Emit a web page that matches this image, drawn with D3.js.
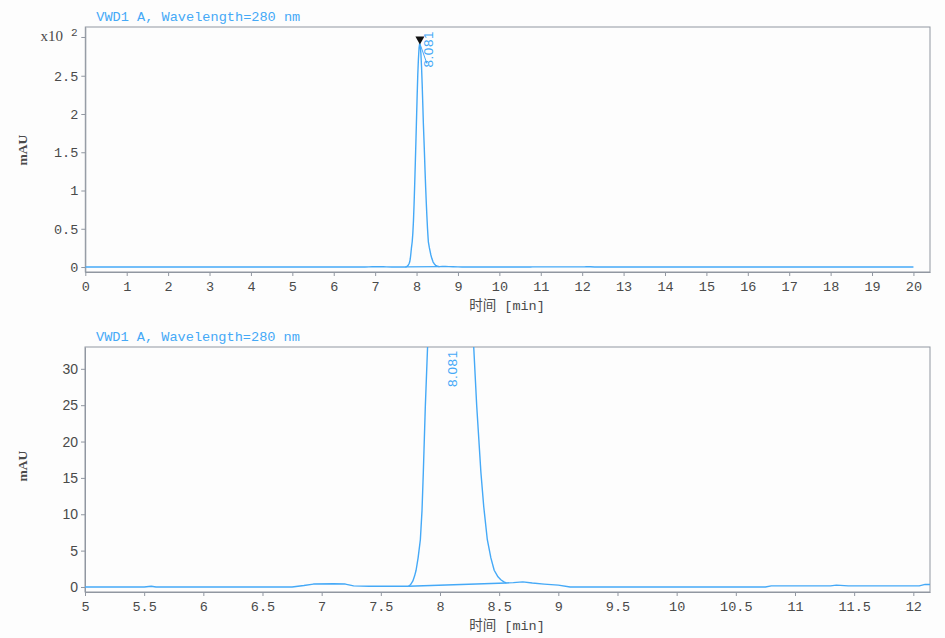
<!DOCTYPE html>
<html>
<head>
<meta charset="utf-8">
<script src="https://cdn.jsdelivr.net/npm/d3@7/dist/d3.min.js"></script>
<style>
  html, body { margin: 0; padding: 0; background: #fdfdfd; }
  svg { display: block; }
</style>
</head>
<body>
<svg id="chart" width="945" height="638"></svg>
<script>
// ---------------- DATA ----------------
const chartTitle = "VWD1 A, Wavelength=280 nm";
const xAxisTitleCJK = "时间";
const xAxisTitleUnit = " [min]";
const yAxisTitle = "mAU";
const peakLabel = "8.081";
const peakTime = 8.081;
const peakHeight = 292;

// retention time (min)
const times = [
  0, 5.5, 5.56, 5.6, 6.75, 6.85, 6.93, 7.1, 7.2, 7.27, 7.4, 7.6,
  7.733, 7.75, 7.77, 7.785, 7.798, 7.815, 7.834, 7.848, 7.859, 7.876, 7.895,
  7.91, 7.925, 7.94, 7.955, 7.97, 7.985, 8.0, 8.015, 8.03, 8.045, 8.06, 8.075,
  8.09, 8.105, 8.12, 8.135, 8.15, 8.165, 8.18, 8.19, 8.205, 8.22, 8.235, 8.25,
  8.265, 8.275, 8.285, 8.31, 8.346, 8.37, 8.40, 8.43, 8.458, 8.49, 8.514, 8.54,
  8.56, 8.62, 8.70, 8.78, 8.88, 9.0, 9.1, 10.75, 10.8, 11.3, 11.35, 11.45,
  12.05, 12.1, 12.2, 12.3, 20.0
];
// absorbance (mAU)
const signal = [
  0, 0, 0.1, 0, 0, 0.2, 0.4, 0.45, 0.4, 0.15, 0.1, 0.1,
  0.1, 0.3, 0.8, 1.5, 2.3, 4.0, 6.5, 10.5, 15.7, 24.8, 33,
  44, 60, 82, 108, 136, 165, 195, 225, 252, 272, 286, 292,
  289, 279, 262, 240, 214, 187, 165, 150, 126, 104, 84, 66,
  50, 41, 33, 25, 15.7, 11, 6.5, 4.0, 2.3, 1.4, 1.0, 0.7,
  0.55, 0.6, 0.7, 0.55, 0.4, 0.25, 0, 0, 0.15, 0.15, 0.25, 0.15,
  0.15, 0.35, 0.35, 0.1, 0
];
// integration baseline under the peak
const baselineTimes = [7.733, 8.56];
const baselineValues = [0.1, 0.55];

// axis ticks
const topXTicks = [0,1,2,3,4,5,6,7,8,9,10,11,12,13,14,15,16,17,18,19,20];
const topYTicks = [0, 50, 100, 150, 200, 250];
const topYTickLabels = ["0", "0.5", "1", "1.5", "2", "2.5"];
const topYExpTick = 300;
const botXTicks = [5, 5.5, 6, 6.5, 7, 7.5, 8, 8.5, 9, 9.5, 10, 10.5, 11, 11.5, 12];
const botYTicks = [0, 5, 10, 15, 20, 25, 30];

// ---------------- DRAW ----------------
const series = times.map((t, i) => ({ t, v: signal[i] }));
const base = baselineTimes.map((t, i) => ({ t, v: baselineValues[i] }));

const svg = d3.select("#chart");
const blue = "#45a9f7";
const frameCol = "#9197a1";
const tickTextCol = "#4a4a4a";
const monoFont = "'Liberation Mono', 'DejaVu Sans Mono', monospace";
const sansFont = "'Liberation Sans', Arial, sans-serif";

function panel(cfg) {
  const g = svg.append("g");
  const x = d3.scaleLinear().domain(cfg.xDomain).range([cfg.left, cfg.right]);
  const y = d3.scaleLinear().domain(cfg.yDomain).range([cfg.bottom, cfg.top]);

  const clipId = "clip" + cfg.id;
  svg.append("defs").append("clipPath").attr("id", clipId)
    .append("rect").attr("x", cfg.left).attr("y", cfg.top)
    .attr("width", cfg.right - cfg.left).attr("height", cfg.bottom - cfg.top);

  // frame
  g.append("rect").attr("x", cfg.left).attr("y", cfg.top)
    .attr("width", cfg.right - cfg.left).attr("height", cfg.bottom - cfg.top)
    .attr("fill", "none").attr("stroke", frameCol).attr("stroke-width", 1);

  // x axis
  const xAxis = d3.axisBottom(x).tickValues(cfg.xTicks).tickSize(4).tickSizeOuter(0)
    .tickFormat(d => String(d));
  const gx = g.append("g").attr("transform", `translate(0,${cfg.bottom})`).call(xAxis);
  gx.select(".domain").attr("stroke", frameCol);
  gx.selectAll(".tick line").attr("stroke", frameCol);
  gx.selectAll(".tick text").attr("fill", tickTextCol).attr("font-family", monoFont)
    .attr("font-size", "13.5px").attr("dy", "0.9em");

  // y axis
  const yAxis = d3.axisLeft(y).tickValues(cfg.yTicks).tickSize(4).tickSizeOuter(0)
    .tickFormat((d, i) => cfg.yLabels ? cfg.yLabels[i] : String(d));
  const gy = g.append("g").attr("transform", `translate(${cfg.left},0)`).call(yAxis);
  gy.select(".domain").attr("stroke", frameCol);
  gy.selectAll(".tick line").attr("stroke", frameCol);
  gy.selectAll(".tick text").attr("fill", tickTextCol).attr("font-family", cfg.yFont)
    .attr("font-size", cfg.yFontSize).attr("x", -7);

  // title
  g.append("text").attr("x", cfg.left + 11).attr("y", cfg.top - 6)
    .attr("fill", blue).attr("font-family", monoFont).attr("font-size", "13.6px")
    .text(chartTitle);

  // axis titles
  const xt = g.append("text").attr("x", 507).attr("y", cfg.bottom + 38)
    .attr("text-anchor", "middle").attr("fill", tickTextCol).attr("font-size", "13.5px");
  xt.append("tspan").attr("font-family", "'Noto Sans CJK SC', sans-serif").text(xAxisTitleCJK);
  xt.append("tspan").attr("font-family", monoFont).text(xAxisTitleUnit);
  g.append("text")
    .attr("transform", `translate(27,${cfg.yTitleY}) rotate(-90)`)
    .attr("text-anchor", "middle").attr("fill", tickTextCol)
    .attr("font-family", "'Liberation Serif', serif").attr("font-size", "13.5px")
    .attr("font-weight", "bold")
    .text(yAxisTitle);

  // data
  const line = d3.line().x(d => x(d.t)).y(d => y(d.v));
  const plot = g.append("g").attr("clip-path", `url(#${clipId})`);
  plot.append("path").datum(base).attr("d", line)
    .attr("fill", "none").attr("stroke", blue).attr("stroke-width", 1.3);
  plot.append("path").datum(series).attr("d", line)
    .attr("fill", "none").attr("stroke", blue).attr("stroke-width", 1.4)
    .attr("stroke-linejoin", "round");

  return { g, x, y };
}

// top panel
const topP = panel({
  id: "top", left: 85.3, right: 930, top: 27, bottom: 272,
  xDomain: [0, 20.4], yDomain: [-6.5, 313.7],
  xTicks: topXTicks, yTicks: topYTicks, yLabels: topYTickLabels,
  yFont: monoFont, yFontSize: "13.5px", yTitleY: 150
});
// exponent tick
topP.g.append("line").attr("x1", 81.3).attr("x2", 85.3)
  .attr("y1", topP.y(topYExpTick)).attr("y2", topP.y(topYExpTick)).attr("stroke", frameCol);
topP.g.append("text").attr("x", 63).attr("y", topP.y(topYExpTick) + 4)
  .attr("text-anchor", "end").attr("fill", tickTextCol)
  .attr("font-family", "'Liberation Serif', serif").attr("font-size", "15px").text("x10");
topP.g.append("text").attr("x", 71).attr("y", topP.y(topYExpTick) - 1)
  .attr("fill", tickTextCol).attr("font-family", monoFont).attr("font-size", "11px").text("2");

// peak marker and label (top)
const px = topP.x(peakTime), py = topP.y(peakHeight);
topP.g.append("line").attr("x1", px).attr("y1", py).attr("x2", px + 7).attr("y2", py + 20)
  .attr("stroke", blue).attr("stroke-width", 1);
topP.g.append("path")
  .attr("d", `M${px - 4.5},${py - 7} L${px + 4.5},${py - 7} L${px},${py + 1} Z`)
  .attr("fill", "#111");
topP.g.append("text").attr("transform", `translate(${px + 13},${py + 24}) rotate(-90)`)
  .attr("fill", blue).attr("font-family", sansFont).attr("font-size", "13.5px")
  .attr("letter-spacing", "0.6px").text(peakLabel);

// bottom panel
const botP = panel({
  id: "bot", left: 85, right: 930, top: 347, bottom: 592,
  xDomain: [5, 12.141], yDomain: [-0.69, 33.0],
  xTicks: botXTicks, yTicks: botYTicks, yLabels: null,
  yFont: sansFont, yFontSize: "14px", yTitleY: 466
});
botP.g.append("text")
  .attr("transform", `translate(${botP.x(peakTime) + 7},387) rotate(-90)`)
  .attr("fill", blue).attr("font-family", sansFont).attr("font-size", "13.5px")
  .attr("letter-spacing", "0.6px").text(peakLabel);
</script>
</body>
</html>
